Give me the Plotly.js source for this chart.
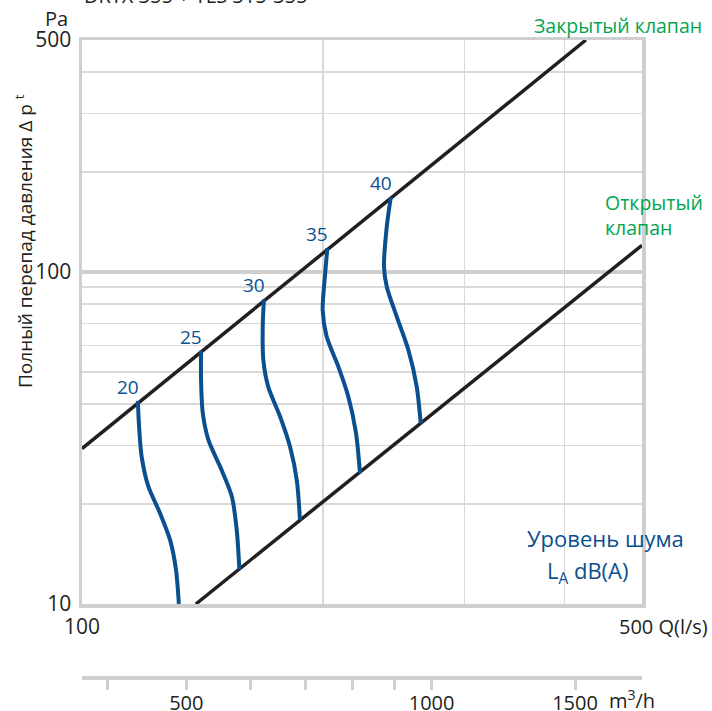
<!DOCTYPE html>
<html><head><meta charset="utf-8">
<script src="https://cdn.plot.ly/plotly-3.0.1.min.js"></script>
<style>html,body{margin:0;padding:0;background:#fff}#chart{width:712px;height:711px}</style>
</head><body><div id="chart"></div>
<script>
const chartTitle = 'DRTX 355 + TLS 315-355';
// valve characteristic lines (Q l/s, P Pa)
const closedQ = [100, 425.6];
const closedP = [29.4, 500];
const openQ = [138.7, 500];
const openP = [10, 120.4];
// noise level curves LA dB(A)
const levelLabels = ['20', '25', '30', '35', '40'];
const q20 = [117.4, 117.9, 118.7, 121.0, 125.1, 128.8, 131.0, 132.1];
const p20 = [40.9, 33.4, 27.8, 22.6, 18.8, 15.6, 12.7, 10];
const q25 = [140.8, 140.8, 141.5, 143.8, 149.4, 153.8, 156.0, 157.2];
const p25 = [57.9, 47.3, 37.6, 31.2, 25.3, 21.1, 16.7, 12.7];
const q30 = [168.7, 168.1, 168.4, 170.8, 176.7, 181.8, 185.4, 187.1];
const p30 = [82.8, 68.4, 54.3, 45.1, 36.7, 29.8, 23.6, 17.9];
const q35 = [202.4, 201.0, 199.7, 202.0, 208.9, 215.0, 219.8, 222.3];
const p35 = [117.9, 96.8, 76.9, 63.9, 51.9, 42.1, 32.7, 24.8];
const q40 = [242.9, 240.1, 238.2, 240.1, 247.1, 255.5, 261.7, 264.7];
const p40 = [168.0, 136.9, 103.8, 90.3, 73.4, 58.2, 45.1, 35.0];
// axes
const xRange = [100, 500];
const yRange = [10, 500];
const xTickVals = [100, 500];
const xTickText = ['100', ''];
const xEndLabel = '500 Q(l/s)';
const xMinorVals = [200, 300, 400];
const yTickVals = [10, 100, 500];
const yTickText = ['10', '100', '500'];
const yMinorVals = [20, 30, 40, 50, 60, 70, 80, 90, 200, 300, 400];
const m3hRange = [372.3, 1812.6];
const m3hTickVals = [400, 500, 600, 700, 800, 900, 1000, 1500];
const m3hTickText = ['', '500', '', '', '', '', '1000', '1500'];

const BLUE = '#0a4f8f', BLACK = '#231f20', GREEN = '#00a651', GRID = '#d9d9d9', FRAME = '#cfcfcf';
const FONT = 'Open Sans, Noto Sans, sans-serif';

// page geometry (pixels)
const W = 712, H = 711, L = 82, R = 642, T = 40, B = 676, MAIN_BOTTOM = 604;
const px = v => (v - L) / (R - L);
const py = v => (B - v) / (B - T);

const curves = [[q20, p20], [q25, p25], [q30, p30], [q35, p35], [q40, p40]];
const traces = [
  {x: closedQ, y: closedP, mode: 'lines', line: {color: BLACK, width: 3.5}, hoverinfo: 'skip'},
  {x: openQ, y: openP, mode: 'lines', line: {color: BLACK, width: 3.5}, hoverinfo: 'skip'}
];
curves.forEach(c => traces.push({x: c[0], y: c[1], mode: 'lines',
  line: {color: BLUE, width: 4, shape: 'spline', smoothing: 0.8}, hoverinfo: 'skip'}));
// carrier for the m3/h scale (no visible marks)
traces.push({x: m3hRange, y: [0, 0], xaxis: 'x2', yaxis: 'y2', mode: 'lines',
  line: {width: 0, color: 'rgba(0,0,0,0)'}, hoverinfo: 'skip'});

const annotations = [
  {text: chartTitle, xref: 'paper', yref: 'paper', x: 0, y: 1, xanchor: 'left', yanchor: 'bottom',
   yshift: 29, showarrow: false, font: {size: 20, color: BLACK}},
  {text: 'Pa', xref: 'paper', yref: 'paper', x: 0, y: 1, xanchor: 'right', yanchor: 'middle',
   xshift: -12, yshift: 22, showarrow: false, font: {size: 20, color: BLACK}},
  {text: 'Полный перепад давления Δ p <sup>t</sup>', xref: 'paper', yref: 'paper', x: px(24), y: py(241),
   xanchor: 'center', yanchor: 'middle', textangle: -90, showarrow: false, font: {size: 19, color: BLACK}},
  {text: xEndLabel, xref: 'paper', yref: 'paper', x: px(617), y: py(626), xanchor: 'left', yanchor: 'middle',
   showarrow: false, font: {size: 20, color: BLACK}},
  {text: 'm<sup>3</sup>/h', xref: 'paper', yref: 'paper', x: px(607), y: py(699), xanchor: 'left', yanchor: 'middle',
   showarrow: false, font: {size: 20, color: BLACK}},
  {text: 'Закрытый клапан', xref: 'paper', yref: 'paper', x: px(704), y: py(26), xanchor: 'right', yanchor: 'middle',
   showarrow: false, font: {size: 19.5, color: GREEN}},
  {text: 'Открытый<br>клапан', xref: 'paper', yref: 'paper', x: px(603), y: py(215),
   xanchor: 'left', yanchor: 'middle', align: 'left', showarrow: false, font: {size: 19.5, color: GREEN}},
  {text: 'Уровень шума', xref: 'paper', yref: 'paper', x: px(605), y: py(538),
   xanchor: 'center', yanchor: 'middle', showarrow: false, font: {size: 22, color: BLUE}},
  {text: 'L<sub>A</sub> dB(A)', xref: 'paper', yref: 'paper', x: px(588), y: py(572),
   xanchor: 'center', yanchor: 'middle', showarrow: false, font: {size: 22, color: BLUE}}
];
curves.forEach((c, i) => annotations.push({text: levelLabels[i], x: Math.log10(c[0][0]), y: Math.log10(c[1][0]),
  xref: 'x', yref: 'y', xanchor: 'right', yanchor: 'bottom', xshift: 3, yshift: -1, showarrow: false,
  font: {size: 19, color: BLUE}}));

const layout = {
  width: W, height: H,
  margin: {l: L, r: W - R, t: T, b: H - B, pad: 0},
  paper_bgcolor: '#fff', plot_bgcolor: 'rgba(0,0,0,0)',
  showlegend: false,
  font: {family: FONT, size: 21, color: BLACK},
  xaxis: {type: 'log', range: xRange.map(Math.log10), anchor: 'y',
    tickmode: 'array', tickvals: xTickVals, ticktext: xTickText, ticks: '', showgrid: false,
    showline: true, mirror: true, linecolor: FRAME, linewidth: 3.5, zeroline: false,
    ticklabelstandoff: 1,
    minor: {tickmode: 'array', tickvals: xMinorVals, showgrid: true, gridcolor: GRID, gridwidth: 1.5, ticks: ''},
    fixedrange: true},
  yaxis: {type: 'log', range: yRange.map(Math.log10), domain: [py(MAIN_BOTTOM), 1], anchor: 'x',
    tickmode: 'array', tickvals: yTickVals, ticktext: yTickText, ticks: '',
    showgrid: true, gridcolor: FRAME, gridwidth: 3.5,
    showline: true, mirror: true, linecolor: FRAME, linewidth: 3.5, zeroline: false,
    ticklabelstandoff: 3,
    minor: {tickmode: 'array', tickvals: yMinorVals, showgrid: true, gridcolor: GRID, gridwidth: 1.5, ticks: ''},
    fixedrange: true},
  xaxis2: {type: 'log', anchor: 'y2', domain: [0, 1],
    range: m3hRange.map(Math.log10), tickmode: 'array', tickvals: m3hTickVals, ticktext: m3hTickText,
    ticks: 'outside', ticklen: 10, tickwidth: 3, tickcolor: FRAME,
    showline: true, linecolor: FRAME, linewidth: 3.5, showgrid: false, zeroline: false,
    tickfont: {size: 20}, ticklabelstandoff: -4, fixedrange: true},
  yaxis2: {anchor: 'x2', domain: [0, 0.002], range: [-1, 1], visible: false, showgrid: false, zeroline: false, fixedrange: true},
  annotations: annotations
};

Plotly.newPlot('chart', traces, layout, {displayModeBar: false, staticPlot: true});
</script></body></html>
